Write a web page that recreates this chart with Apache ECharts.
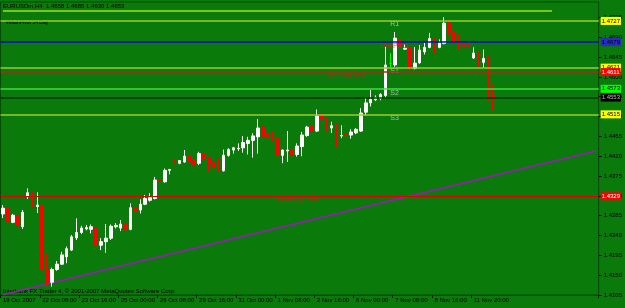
<!DOCTYPE html>
<html><head><meta charset="utf-8">
<script src="https://cdn.jsdelivr.net/npm/echarts@6/dist/echarts.min.js"></script>
<style>html,body{margin:0;padding:0;background:#0a7a0a}#c{width:625px;height:308px}</style>
</head><body><div id="c"></div>
<script>
// ---- data ----
const tickLabels = ['19 Oct 2007','22 Oct 08:00','23 Oct 16:00','25 Oct 00:00','26 Oct 08:00','29 Oct 16:00','31 Oct 00:00','1 Nov 08:00','2 Nov 16:00','6 Nov 00:00','7 Nov 08:00','8 Nov 16:00','11 Nov 20:00'];
const barsPerTick = 8;
const totalSlots = 122; // bars + empty right shift area

const opens = [1.4289,1.4303,1.4270,1.4286,1.4260,1.4329,1.4337,1.4306,1.4309,1.4164,
1.4134,1.4163,1.4175,1.4192,1.4207,1.4235,1.4247,1.4255,1.4254,1.4258,
1.4218,1.4226,1.4234,1.4260,1.4257,1.4266,1.4254,1.4304,1.4298,1.4311,
1.4320,1.4324,1.4365,1.4362,1.4388,1.4409,1.4404,1.4407,1.4420,1.4410,
1.4404,1.4426,1.4415,1.4405,1.4398,1.4387,1.4422,1.4434,1.4437,1.4439,
1.4449,1.4456,1.4464,1.4486,1.4470,1.4464,1.4461,1.4422,1.4432,1.4434,
1.4424,1.4442,1.4467,1.4488,1.4477,1.4516,1.4503,1.4484,1.4489,1.4466,
1.4469,1.4468,1.4473,1.4477,1.4520,1.4541,1.4548,1.4551,1.4558,1.4630,
1.4627,1.4683,1.4663,1.4667,1.4619,1.4632,1.4657,1.4667,1.4687,1.4667,
1.4676,1.4722,1.4702,1.4679,1.4677,1.4676,1.4643,1.4657,1.4633,1.4642,
1.4556];
const closes = [1.4302,1.4271,1.4286,1.4262,1.4293,1.4337,1.4304,1.4309,1.4162,1.4134,
1.4163,1.4175,1.4196,1.4210,1.4237,1.4247,1.4257,1.4258,1.4260,1.4218,
1.4226,1.4234,1.4261,1.4263,1.4266,1.4253,1.4303,1.4295,1.4311,1.4324,
1.4326,1.4366,1.4363,1.4388,1.4390,1.4404,1.4410,1.4420,1.4407,1.4401,
1.4426,1.4414,1.4405,1.4395,1.4387,1.4422,1.4435,1.4439,1.4438,1.4451,
1.4456,1.4466,1.4484,1.4466,1.4462,1.4457,1.4422,1.4434,1.4434,1.4422,
1.4443,1.4468,1.4486,1.4477,1.4511,1.4503,1.4486,1.4489,1.4464,1.4467,
1.4468,1.4475,1.4481,1.4518,1.4541,1.4549,1.4553,1.4560,1.4627,1.4630,
1.4688,1.4670,1.4665,1.4619,1.4631,1.4661,1.4667,1.4687,1.4668,1.4677,
1.4722,1.4702,1.4679,1.4676,1.4670,1.4668,1.4654,1.4634,1.4642,1.4556,
1.4553];
const lows = [1.4280,1.4266,1.4268,1.4243,1.4255,1.4323,1.4303,1.4291,1.4134,1.4127,
1.4124,1.4160,1.4173,1.4177,1.4205,1.4230,1.4243,1.4252,1.4245,1.4187,
1.4207,1.4201,1.4230,1.4256,1.4250,1.4249,1.4252,1.4284,1.4290,1.4309,
1.4317,1.4322,1.4354,1.4360,1.4379,1.4402,1.4402,1.4405,1.4400,1.4377,
1.4400,1.4413,1.4386,1.4373,1.4385,1.4385,1.4419,1.4426,1.4432,1.4428,
1.4424,1.4417,1.4426,1.4462,1.4460,1.4453,1.4407,1.4404,1.4407,1.4413,
1.4419,1.4420,1.4464,1.4435,1.4475,1.4498,1.4475,1.4473,1.4441,1.4461,
1.4458,1.4460,1.4470,1.4475,1.4513,1.4533,1.4545,1.4547,1.4553,1.4622,
1.4623,1.4661,1.4661,1.4611,1.4617,1.4630,1.4651,1.4665,1.4652,1.4665,
1.4674,1.4695,1.4662,1.4663,1.4630,1.4666,1.4641,1.4623,1.4622,1.4546,
1.4524];
const highs = [1.4309,1.4316,1.4289,1.4305,1.4298,1.4347,1.4341,1.4338,1.4311,1.4200,
1.4167,1.4182,1.4203,1.4215,1.4241,1.4279,1.4262,1.4264,1.4265,1.4260,
1.4234,1.4266,1.4265,1.4268,1.4275,1.4288,1.4313,1.4343,1.4322,1.4332,
1.4336,1.4373,1.4375,1.4392,1.4391,1.4411,1.4411,1.4434,1.4438,1.4419,
1.4430,1.4428,1.4419,1.4411,1.4415,1.4435,1.4438,1.4441,1.4449,1.4466,
1.4464,1.4472,1.4504,1.4488,1.4473,1.4475,1.4462,1.4435,1.4477,1.4435,
1.4449,1.4475,1.4489,1.4524,1.4526,1.4519,1.4509,1.4498,1.4494,1.4490,
1.4479,1.4481,1.4484,1.4529,1.4553,1.4570,1.4558,1.4563,1.4668,1.4654,
1.4702,1.4729,1.4674,1.4672,1.4668,1.4672,1.4677,1.4700,1.4690,1.4685,
1.4736,1.4730,1.4732,1.4697,1.4681,1.4676,1.4667,1.4658,1.4662,1.4649,
1.4583];

// horizontal levels (pivot lines, current price)
const levelNames  = ['R1','DayPivot','S1','WeeklyPivot','S2','Price','S3','MonthlyPivot'];
const levelValues = [1.4727,1.4679,1.4621,1.4611,1.4573,1.4553,1.4515,1.4329];
const topLineValue = 1.4750;
const topLineSpan = [0, 112];

// trend line anchors [slot index, price]
const trendIdx = [0, 121];
const trendPrice = [1.4106, 1.4432];

// text annotations
const annotTexts = ['R1','S1','S2','S3','DayPivot','WeeklyPivot','MonthlyPivot'];
const annotIdx   = [79, 79, 79, 79, 77, 66, 56];
const annotPrice = [1.4720, 1.4613, 1.4563, 1.4507, 1.4670, 1.4603, 1.4321];

const yMin = 1.4105, yMax = 1.4770, yStep = 0.0045;

// ---- styles ----
const levelStyle = {
  'R1':          {line:'#9acd32', w:1.5, box:'#ffff00', txt:'#000'},
  'DayPivot':    {line:'#0a0ad0', w:1.5, box:'#2a2ac8', txt:'#000'},
  'S1':          {line:'#9acd32', w:1.5, box:'#ffff00', txt:'#000'},
  'WeeklyPivot': {line:'#b02a1a', w:1.5, box:'#ff0000', txt:'#fff'},
  'S2':          {line:'#3fe03f', w:1.5, box:'#00ff00', txt:'#000'},
  'Price':       {line:'#063806', w:1.5, box:'#000000', txt:'#bbb'},
  'S3':          {line:'#9acd32', w:1.5, box:'#ffff00', txt:'#000'},
  'MonthlyPivot':{line:'#e00000', w:1.2, box:'#ff0000', txt:'#fff'}
};
const annotColor = ['#c8d4c8','#c8d4c8','#c8d4c8','#c8d4c8','#d82020','#c82020','#c82020'];

const categories = Array.from({length: totalSlots}, (_, i) => String(i));
const candleData = opens.map((o, i) => [o, closes[i], lows[i], highs[i]]);
const isTick = i => i % barsPerTick === 0 && i / barsPerTick < tickLabels.length;

const markLines = levelNames.map((n, i) => ({
  yAxis: levelValues[i],
  lineStyle: {color: levelStyle[n].line, width: levelStyle[n].w, type: 'solid'},
  label: {show: true, position: 'end', distance: 2, formatter: levelValues[i].toFixed(4),
          backgroundColor: levelStyle[n].box, color: levelStyle[n].txt,
          fontSize: 6, fontFamily: 'Liberation Sans', padding: [1, 1, 1, 1]}
}));
markLines.unshift([
  {coord: [topLineSpan[0], topLineValue], lineStyle: {color: '#9ee21e', width: 1.5, type: 'solid'}, label: {show: false}},
  {coord: [topLineSpan[1], topLineValue]}
]);

const chart = echarts.init(document.getElementById('c'), null, {renderer: 'canvas'});
chart.setOption({
  animation: false,
  backgroundColor: '#0a7a0a',
  grid: {left: 0, right: 25, top: 2, bottom: 13, show: true, borderColor: '#034a03', borderWidth: 1, backgroundColor: 'transparent'},
  xAxis: {
    type: 'category', data: categories, boundaryGap: true,
    axisLine: {show: true, lineStyle: {color: '#034a03'}},
    axisTick: {show: true, length: 3, interval: (i) => isTick(i), lineStyle: {color: '#000'}},
    axisLabel: {interval: (i) => isTick(i), formatter: (v, i) => isTick(i) ? tickLabels[i / barsPerTick] : '',
      align: 'left', fontSize: 6, color: '#000', margin: 2, fontFamily: 'Liberation Sans'},
    splitLine: {show: false}
  },
  yAxis: {
    type: 'value', position: 'right', min: yMin, max: yMax, interval: yStep, scale: true,
    axisLine: {show: true, lineStyle: {color: '#034a03'}},
    axisTick: {show: true, length: 3, lineStyle: {color: '#000'}},
    axisLabel: {formatter: v => v.toFixed(4), fontSize: 6, color: '#000', margin: 5, fontFamily: 'Liberation Sans',
      showMaxLabel: false, showMinLabel: true},
    splitLine: {show: false}
  },
  graphic: [
    {type: 'text', left: 3, top: 3, style: {text: 'EURUSDm,H4  1.4658 1.4685 1.4630 1.4653', fontSize: 6, fill: '#000', fontFamily: 'Liberation Sans'}},
    {type: 'text', left: 6, top: 20, style: {text: '#MathPivot 14 Day', fontSize: 5, fill: '#000', fontFamily: 'Liberation Sans'}},
    {type: 'text', left: 3, top: 288, style: {text: 'Interbank FX Trader 4, \u00a9 2001-2007 MetaQuotes Software Corp.', fontSize: 6, fill: '#000', fontFamily: 'Liberation Sans'}}
  ],
  series: [
    {
      name: 'levels', type: 'line', data: [], silent: true, z: 1,
      markLine: {symbol: ['none', 'none'], precision: 4, silent: true, animation: false, data: markLines}
    },
    {
      name: 'trend', type: 'line', data: trendIdx.map((x, i) => [x, trendPrice[i]]),
      showSymbol: false, silent: true, z: 2,
      lineStyle: {color: '#8e22a8', width: 1.8}
    },
    {
      name: 'EURUSDm', type: 'candlestick', data: candleData, barWidth: 3, z: 3,
      itemStyle: {color: '#ffffff', color0: '#ff0000', borderColor: '#ffffff', borderColor0: '#ff0000',
        borderColorDoji: '#00ff00', borderWidth: 1}
    },
    {
      name: 'annotations', type: 'scatter', symbolSize: 0, silent: true, z: 4,
      data: annotTexts.map((t, i) => ({value: [annotIdx[i], annotPrice[i]], name: t,
        label: {color: annotColor[i]}})),
      label: {show: true, position: 'right', distance: 0, formatter: '{b}', fontSize: 7, fontFamily: 'Liberation Sans'}
    }
  ]
});
</script></body></html>
